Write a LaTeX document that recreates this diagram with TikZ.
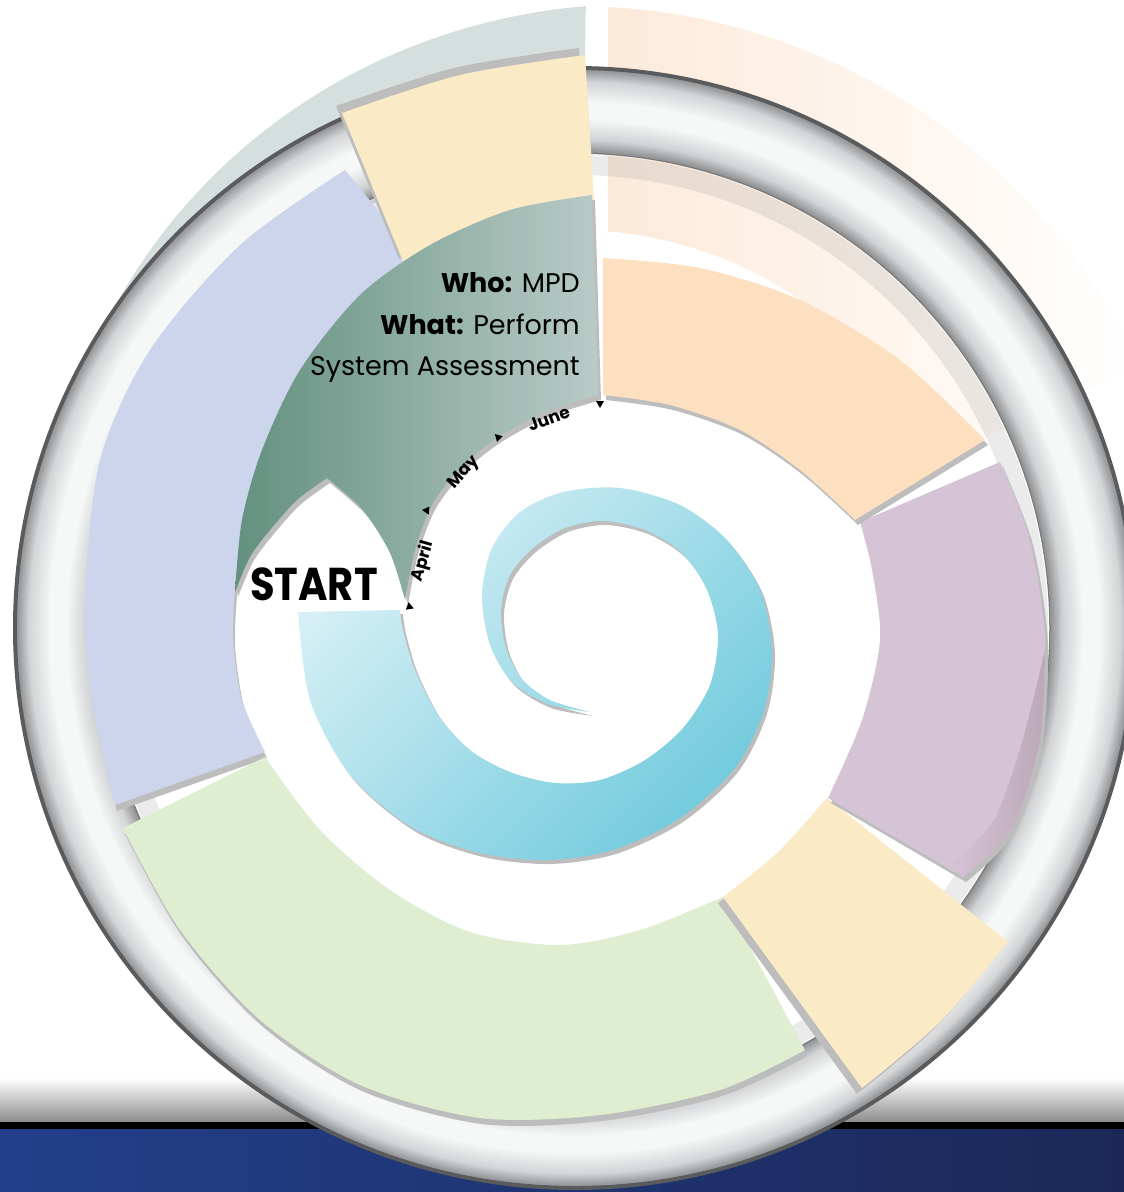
\documentclass[tikz,border=0pt]{standalone}
\usepackage{fontspec}
\newfontfamily\gothic{Poppins}
\usetikzlibrary{positioning}

\definecolor{wedgelavender}{HTML}{CDD5EC}
\definecolor{wedgeyellow}{HTML}{FAEAC6}
\definecolor{wedgegreen}{HTML}{DFEDD0}
\definecolor{wedgepurple}{HTML}{D5C3D6}
\definecolor{purpledark}{HTML}{BBA9B8}
\definecolor{wedgeorange}{HTML}{FDE0C0}
\definecolor{ghostorange}{HTML}{FCEADA}
\definecolor{ghostteal}{HTML}{D5E0DE}
\definecolor{tealdark}{HTML}{63907F}
\definecolor{teallight}{HTML}{B9CBC7}
\definecolor{spirallight}{HTML}{D8F0F6}
\definecolor{spiraldark}{HTML}{72CBDD}
\definecolor{shadowgray}{HTML}{BDBDBD}
\definecolor{ringdark}{HTML}{929395}
\definecolor{ringlight}{HTML}{D2D3D5}
\definecolor{ringwhite}{HTML}{F6F7F7}
\definecolor{ringedge}{HTML}{5A5B5D}
\definecolor{bandleft}{HTML}{233F8B}
\definecolor{bandright}{HTML}{1B2857}

\tikzset{
  dropshadow/.style={preaction={fill=shadowgray, transform canvas={shift={#1}}}},
  whatlabel/.style={font=\gothic\fontsize{27}{30}\selectfont, inner sep=0pt},
  startlabel/.style={font=\gothic\bfseries\fontsize{40}{44}\selectfont, inner sep=0pt},
  monthlabel/.style={font=\gothic\bfseries\fontsize{17}{18}\selectfont, inner sep=0pt},
}

\begin{document}
\begin{tikzpicture}[x=1pt, y=-1pt, line join=round]
  \useasboundingbox (0,0) rectangle (1124,1192);
  \clip (0,0) rectangle (1124,1192);

  % floor band
  \shade[top color=white, bottom color=black!45] (0,1078) rectangle (1124,1122);
  \fill[black] (0,1122) rectangle (1124,1129);
  \shade[left color=bandleft, right color=bandright] (0,1129) rectangle (1124,1192);

  \begin{scope}[shift={(575,628)}]
    % ghost sectors behind the ring
    \fill[ghostteal] (-89:470) arc[start angle=-89, end angle=-150, radius=470]
      -- plot[domain=-150:-89, samples=40] (\x:{556+(\x+150)*66/61}) -- cycle;
    \shade[left color=ghostorange, middle color=ghostorange!80, right color=white]
      (33,-397) -- (33,-621) arc[start angle=-86.96, end angle=-25, radius=622]
      -- (-25:398) arc[start angle=-25, end angle=-85.25, radius=398] -- cycle;

    % metal ring
    \draw[black!40, opacity=.2, line width=20pt] (0,0) circle[radius=463];
    \foreach \ra/\rb/\ca/\cb in {476/488/ringdark/ringlight, 488/508/ringlight/ringwhite,
                                 508/524/ringwhite/ringwhite, 524/546/ringwhite/ringlight,
                                 546/558/ringlight/ringdark}{
      \foreach \k in {0,...,9}{
        \pgfmathtruncatemacro\pp{\k*10}
        \pgfmathsetmacro\rr{\ra+(\rb-\ra)*(\k+0.5)/10}
        \pgfmathsetmacro\lw{(\rb-\ra)/10+0.8}
        \draw[\cb!\pp!\ca, line width=\lw pt] (0,0) circle[radius=\rr];
      }
    }
    \draw[ringedge, line width=4pt] (0,0) circle[radius=560];
    \draw[ringedge!80, line width=1.5pt] (0,0) circle[radius=475];
  \end{scope}

  % wedges
  \fill[wedgelavender, dropshadow={(2,6)}]
    plot[smooth] coordinates {(345,170) (240,245) (150,350) (100,460) (85,600) (92,700) (115,805)}
    -- (265,752)
    -- plot[smooth] coordinates {(265,752) (242,700) (233,640) (235,590)}
    -- (300,380) -- (420,262) -- cycle;
  \fill[wedgegreen, dropshadow={(2,6)}]
    plot[smooth] coordinates {(123,828) (180,930) (260,1020) (360,1085) (480,1118) (600,1115) (720,1090) (805,1050)}
    -- (723,897)
    -- plot[smooth] coordinates {(723,897) (640,930) (560,945) (470,932) (390,890) (320,830) (265,757)}
    -- cycle;
  \fill[wedgeyellow, dropshadow={(-5,6)}]
    (827,798) -- (1008,942)
    -- plot[smooth] coordinates {(1008,942) (940,1022) (862,1088)}
    -- (723,897)
    -- plot[smooth] coordinates {(723,897) (778,852) (827,798)} -- cycle;
  \fill[wedgepurple, dropshadow={(3,5)}]
    (860,522) -- (1000,462)
    -- plot[smooth] coordinates {(1000,462) (1030,540) (1045,640) (1038,750) (1010,830) (963,877)}
    -- (828,798)
    -- plot[smooth] coordinates {(828,798) (862,720) (880,640) (872,570) (860,522)} -- cycle;
  \shade[left color=wedgepurple, right color=purpledark]
    plot[smooth] coordinates {(1045,650) (1040,740) (1012,828) (963,877)}
    -- plot[smooth] coordinates {(950,867) (994,820) (1022,742) (1045,650)} -- cycle;
  \fill[wedgeorange, dropshadow={(3,5)}]
    plot[smooth] coordinates {(603,258) (700,268) (800,300) (900,360) (985,440)}
    -- (855,520)
    -- plot[smooth] coordinates {(855,520) (800,470) (740,430) (670,405) (603,395)} -- cycle;
  \fill[wedgeyellow, dropshadow={(-6,-7)}]
    plot[smooth] coordinates {(342,113) (460,75) (585,55)}
    -- (594,200) -- (405,266) -- cycle;

  % current step
  \shade[left color=tealdark, right color=teallight, dropshadow={(3,5)}]
    plot[smooth] coordinates {(592,195) (510,210) (430,245) (360,295) (300,370) (262,450) (242,520) (235,592)}
    -- plot[smooth] coordinates {(235,592) (250,557) (270,530) (297,500) (327,478)}
    -- plot[smooth] coordinates {(327,478) (363,510) (390,553) (405,600)}
    -- plot[smooth] coordinates {(405,600) (415,550) (432,505) (460,468) (497,438) (545,412) (598,395)}
    -- cycle;

  % spiral
  \shade[top color=spirallight, bottom color=spiraldark, shading angle=45, dropshadow={(3,4)}]
    plot[smooth] coordinates {(298,612) (310,700) (350,775) (413,828) (480,853) (547,860)
      (613,850) (680,818) (735,768) (764,710) (772,650) (760,590) (727,540) (680,505)
      (620,488) (563,492) (520,512) (492,548) (482,595) (490,645) (512,682) (548,704) (590,712)}
    -- plot[smooth] coordinates {(590,712) (550,700) (522,679) (506,648) (501,610) (510,575)
      (533,548) (565,528) (603,521) (645,530) (682,553) (707,590) (718,635) (710,685)
      (683,728) (645,760) (600,780) (555,783) (510,772) (470,750) (438,715) (415,670)
      (403,630) (400,610)}
    -- cycle;

  % labels
  \node[whatlabel, anchor=base east] (who) at (580,292) {\textbf{Who:} MPD};
  \node[whatlabel, anchor=base east] (what) at (580,334) {\textbf{What:} Perform};
  \node[whatlabel, anchor=base east] (task) at (580,375) {System Assessment};
  \node[startlabel, anchor=base west] (start) at (250,600) {\scalebox{1}[1.15]{START}};

  \node[monthlabel, rotate=74] (april) at (423,561) {April};
  \node[monthlabel, rotate=48] (may) at (464,473) {May};
  \node[monthlabel, rotate=20] (june) at (549,419) {June};
  \foreach \x/\y/\a in {410/607/70, 427/511/25, 498/438/-15, 600/404/0}
    \fill[shift={(\x,\y)}, rotate=\a] (-4,-3) -- (4,-3) -- (0,4) -- cycle;
\end{tikzpicture}
\end{document}
